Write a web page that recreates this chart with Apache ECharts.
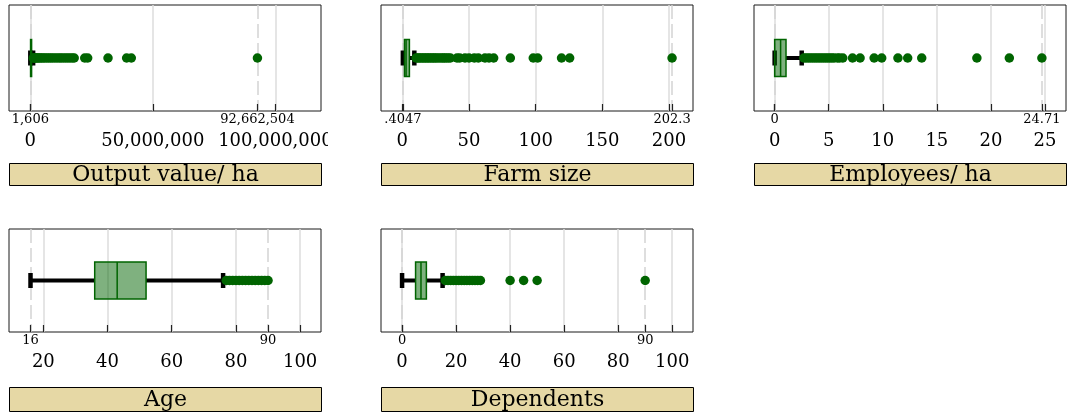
<!DOCTYPE html>
<html>
<head>
<meta charset="utf-8">
<script src="https://cdn.jsdelivr.net/npm/echarts@6/dist/echarts.min.js"></script>
<style>
  html, body { margin: 0; padding: 0; background: #fff; }
  #chart { width: 1070px; height: 412px; }
</style>
</head>
<body>
<div id="chart"></div>
<script>
// ---------- data ----------
const panelTitles = ['Output value/ ha', 'Farm size', 'Employees/ ha', 'Age', 'Dependents'];

// box summaries: [lower adjacent, Q1, median, Q3, upper adjacent]
const outputBox    = [1606, 100000, 260000, 520000, 1140000];
const farmBox      = [0.4047, 1.6, 2.8, 5.3, 9.0];
const employeeBox  = [0, 0, 0.55, 1.05, 2.5];
const ageBox       = [16, 36, 43, 52, 76];
const dependentBox = [0, 5, 7, 9, 15];

// observations beyond the whiskers
const outputOutliers = [1200000, 1500000, 1900000, 2300000, 2800000, 3300000, 3900000, 4500000,
  5200000, 5900000, 6700000, 7500000, 8300000, 9100000, 10000000, 10900000, 11800000, 12600000,
  13500000, 14400000, 15300000, 16200000, 17100000, 17900000, 22200000, 23400000, 31700000,
  39300000, 41200000, 92662504];
const farmOutliers = [10.3, 11.5, 12.6, 13.8, 15, 16.2, 17.4, 18.6, 19.8, 21, 22.3, 23.5, 24.7,
  26, 27.5, 29, 30.4, 31.6, 33, 34.5, 36, 41, 43, 47, 50, 54, 57, 62, 65, 68.5, 81, 98.2, 101.5,
  119.4, 125.5, 202.3];
const employeeOutliers = [2.7, 2.9, 3.1, 3.3, 3.5, 3.7, 3.9, 4.1, 4.3, 4.5, 4.7, 4.9, 5.1, 5.3,
  5.5, 5.8, 6.0, 6.3, 7.2, 7.9, 9.2, 9.9, 11.4, 12.3, 13.6, 18.7, 21.7, 24.71];
const ageOutliers = [77, 78, 79, 80, 81, 82, 83, 84, 85, 86, 87, 88, 89, 90];
const dependentOutliers = [16, 17, 18, 19, 20, 21, 22, 23, 24, 25, 26, 27, 28, 29, 40, 45, 50, 90];

// major ticks
const outputTicks    = [0, 50000000, 100000000];
const farmTicks      = [0, 50, 100, 150, 200];
const employeeTicks  = [0, 5, 10, 15, 20, 25];
const ageTicks       = [20, 40, 60, 80, 100];
const dependentTicks = [0, 20, 40, 60, 80, 100];

// observed minimum / maximum, marked under each axis
const outputRange    = [1606, 92662504];
const outputRangeLabels    = ['1,606', '92,662,504'];
const farmRange      = [0.4047, 202.3];
const farmRangeLabels      = ['.4047', '202.3'];
const employeeRange  = [0, 24.71];
const employeeRangeLabels  = ['0', '24.71'];
const ageRange       = [16, 90];
const ageRangeLabels       = ['16', '90'];
const dependentRange = [0, 90];
const dependentRangeLabels = ['0', '90'];

// ---------- layout ----------
const GREEN = '#006400';
const FONT = 'DejaVu Serif';
const PW = 312;

const panels = [
  { title: panelTitles[0], box: outputBox, out: outputOutliers, ticks: outputTicks,
    range: outputRange, rangeLabels: outputRangeLabels, min: -8.7e6, max: 118.6e6,
    left: 9, top: 5, height: 106, headTop: 163, headH: 22, clipX: 328,
    fmt: v => v.toLocaleString('en-US') },
  { title: panelTitles[1], box: farmBox, out: farmOutliers, ticks: farmTicks,
    range: farmRange, rangeLabels: farmRangeLabels, min: -16, max: 218,
    left: 381, top: 5, height: 106, headTop: 163, headH: 22, clipX: 689,
    fmt: v => String(v) },
  { title: panelTitles[2], box: employeeBox, out: employeeOutliers, ticks: employeeTicks,
    range: employeeRange, rangeLabels: employeeRangeLabels, min: -1.91, max: 26.94,
    left: 754, top: 5, height: 106, headTop: 163, headH: 22, clipX: 1059,
    fmt: v => String(v) },
  { title: panelTitles[3], box: ageBox, out: ageOutliers, ticks: ageTicks,
    range: ageRange, rangeLabels: ageRangeLabels, min: 9.3, max: 106.5,
    left: 9, top: 229, height: 103, headTop: 387, headH: 24, clipX: 320,
    fmt: v => String(v) },
  { title: panelTitles[4], box: dependentBox, out: dependentOutliers, ticks: dependentTicks,
    range: dependentRange, rangeLabels: dependentRangeLabels, min: -7.8, max: 107.7,
    left: 381, top: 229, height: 103, headTop: 387, headH: 24, clipX: 690,
    fmt: v => String(v) }
];

const grid = [], xAxis = [], yAxis = [], series = [], graphic = [];

panels.forEach((p, i) => {
  grid.push({
    left: p.left, top: p.top, width: PW, height: p.height,
    show: true, borderColor: '#1a1a1a', borderWidth: 1, backgroundColor: '#fff',
    containLabel: false, outerBoundsMode: 'none'
  });

  // main scale
  xAxis.push({
    type: 'value', gridIndex: i, min: p.min, max: p.max, position: 'bottom',
    axisLine: { show: false },
    axisTick: { show: true, inside: true, length: 7, customValues: p.ticks,
      lineStyle: { color: '#222', width: 1.2 } },
    axisLabel: { customValues: p.ticks, margin: 21, fontSize: 18, fontFamily: FONT,
      color: '#000', formatter: p.fmt },
    splitLine: { show: true, lineStyle: { color: '#dcdcdc', width: 1.5 } }
  });
  // min / max markers
  xAxis.push({
    type: 'value', gridIndex: i, min: p.min, max: p.max, position: 'bottom',
    axisLine: { show: false },
    axisTick: { show: true, inside: true, length: 7, customValues: p.range,
      lineStyle: { color: '#222', width: 1.2 } },
    axisLabel: { customValues: p.range, margin: 2, fontSize: 13, fontFamily: FONT,
      color: '#000', formatter: v => p.rangeLabels[p.range.indexOf(v)] },
    splitLine: { show: true, lineStyle: { color: '#d4d4d4', width: 1.5, type: [14, 5] } }
  });
  yAxis.push({ type: 'value', gridIndex: i, min: 0, max: 1, show: false });

  series.push({
    type: 'custom', xAxisIndex: 2 * i, yAxisIndex: i, silent: true, z: 3,
    data: [p.box.concat([0.5])],
    encode: { x: [0, 1, 2, 3, 4], y: 5 },
    renderItem: (params, api) => {
      const X = v => api.coord([v, 0.5])[0];
      const y = api.coord([0, api.value(5)])[1];
      const lw = X(api.value(0)), q1 = X(api.value(1)), md = X(api.value(2));
      const q3 = X(api.value(3)), uw = X(api.value(4));
      const bh = 37, ch = 15, cw = 4.5;
      return {
        type: 'group',
        children: [
          { type: 'line', shape: { x1: lw, y1: y, x2: q1, y2: y }, style: { stroke: '#000', lineWidth: 4 } },
          { type: 'line', shape: { x1: q3, y1: y, x2: uw, y2: y }, style: { stroke: '#000', lineWidth: 4 } },
          { type: 'rect', shape: { x: lw - cw / 2, y: y - ch / 2, width: cw, height: ch }, style: { fill: '#000' } },
          { type: 'rect', shape: { x: uw - cw / 2, y: y - ch / 2, width: cw, height: ch }, style: { fill: '#000' } },
          { type: 'rect', shape: { x: q1, y: y - bh / 2, width: Math.max(q3 - q1, 0.5), height: bh },
            style: { fill: 'rgba(0,100,0,0.5)', stroke: GREEN, lineWidth: 1.5 } },
          { type: 'line', shape: { x1: md, y1: y - bh / 2, x2: md, y2: y + bh / 2 },
            style: { stroke: GREEN, lineWidth: 1.5 } }
        ]
      };
    }
  });

  series.push({
    type: 'scatter', xAxisIndex: 2 * i, yAxisIndex: i, silent: true, z: 4,
    symbol: 'circle', symbolSize: 9.5,
    itemStyle: { color: GREEN, opacity: 1 },
    data: p.out.map(v => [v, 0.5])
  });

  // header strip under each panel
  graphic.push({
    type: 'group', left: p.left, top: p.headTop, silent: true,
    children: [
      { type: 'rect', shape: { x: 0, y: 0, width: PW, height: p.headH },
        style: { fill: '#E6D8A5', stroke: '#000', lineWidth: 1 } },
      { type: 'text', x: PW / 2, y: p.headH / 2 + 1,
        style: { text: p.title, fill: '#000', font: '22px "' + FONT + '"',
          align: 'center', verticalAlign: 'middle' } }
    ]
  });
  // panel edge trims the widest tick label
  graphic.push({
    type: 'rect', silent: true, z: 100,
    shape: { x: p.clipX, y: p.top + p.height + 16, width: 60, height: 30 },
    style: { fill: '#fff' }
  });
});

const chart = echarts.init(document.getElementById('chart'), null, { renderer: 'canvas' });
chart.setOption({
  animation: false,
  backgroundColor: '#fff',
  grid, xAxis, yAxis, series, graphic
});
</script>
</body>
</html>
